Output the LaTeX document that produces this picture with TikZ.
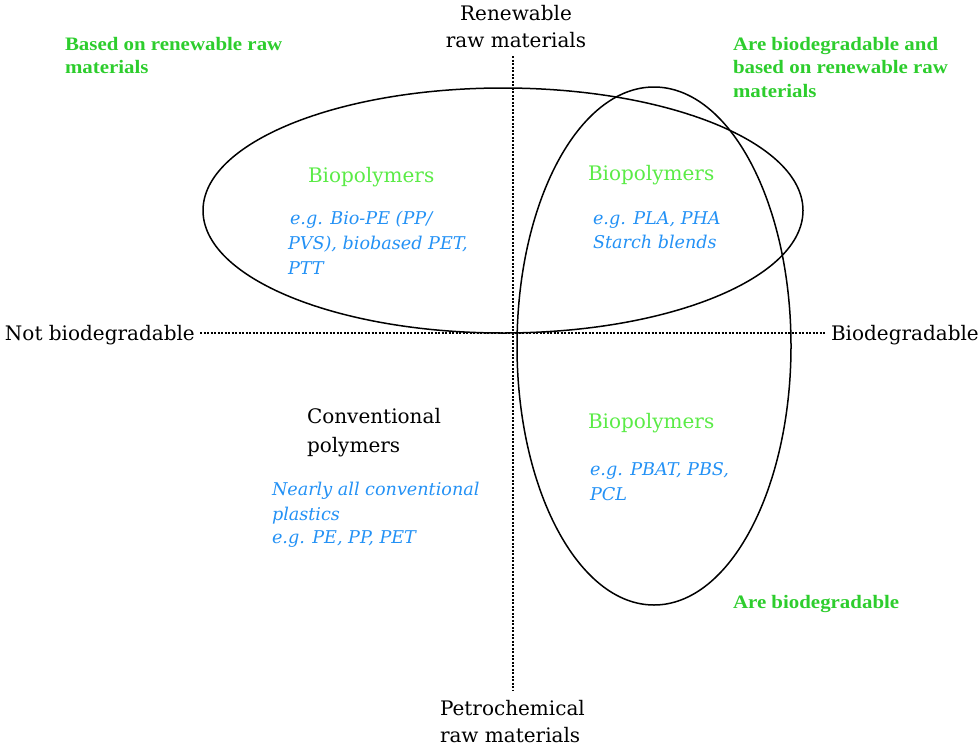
\documentclass[tikz,border=0pt]{standalone}
\usepackage{fontspec}
\setmainfont{DejaVu Serif}
\newfontfamily\grnfont[FakeStretch=1.1]{Liberation Serif}
\usetikzlibrary{shapes.geometric}
\definecolor{lbl}{RGB}{45,205,45}
\definecolor{bio}{RGB}{90,235,70}
\definecolor{exblue}{RGB}{35,145,245}
\begin{document}
\begin{tikzpicture}[x=1pt,y=-1pt,
  every node/.style={inner sep=0pt, outer sep=0pt},
  axisline/.style={line width=2.2pt, dash pattern=on 2pt off 1.5pt},
  ring/.style={draw, ellipse, line width=1.5pt, inner sep=0pt},
  axlabel/.style={anchor=base west, font=\fontsize{20}{24}\selectfont},
  axlabelc/.style={anchor=base, font=\fontsize{20}{24}\selectfont},
  hdstyle/.style={anchor=base west, text=bio, font=\fontsize{20}{24}\selectfont},
  exstyle/.style={anchor=base west, text=exblue, font=\fontsize{17.6}{20}\selectfont\itshape},
  ntstyle/.style={anchor=base west, text=lbl, font=\fontsize{19}{23}\selectfont\grnfont\bfseries}]
\useasboundingbox (0,0) rectangle (980,745);

% axes
\coordinate (vt) at (513,56);
\coordinate (vb) at (513,690);
\coordinate (hl) at (200,333);
\coordinate (hr) at (826,333);
\draw[axisline] (vt) -- (vb);
\draw[axisline] (hl) -- (hr);

% ellipses
\node[ring, minimum width=600pt, minimum height=245pt] (eh) at (503,210.5) {};
\node[ring, minimum width=274pt, minimum height=518pt] (ev) at (654,346) {};

% axis labels
\node[axlabelc] (ren1) at (516,20) {Renewable};
\node[axlabelc] (ren2) at (516,47) {raw materials};
\node[axlabel] (pet1) at (440,715) {Petrochemical};
\node[axlabel] (pet2) at (440,742) {raw materials};
\node[axlabel] (notbio) at (5,340) {Not biodegradable};
\node[axlabel] (bio) at (831,340) {Biodegradable};

% green notes
\node[ntstyle] (n1a) at (65,50) {Based on renewable raw};
\node[ntstyle] (n1b) at (65,73) {materials};
\node[ntstyle] (n2a) at (733,50) {Are biodegradable and};
\node[ntstyle] (n2b) at (733,73) {based on renewable raw};
\node[ntstyle] (n2c) at (733,97) {materials};
\node[ntstyle] (n3a) at (733,608) {Are biodegradable};

% quadrant headings
\node[hdstyle] (b1) at (308,182) {Biopolymers};
\node[hdstyle] (b2) at (588,180) {Biopolymers};
\node[hdstyle] (b3) at (588,428) {Biopolymers};
\node[axlabel] (c1) at (307,423) {Conventional};
\node[axlabel] (c2) at (307,452) {polymers};

% examples
\node[exstyle] (x1a) at (290,224) {e.g. Bio-PE (PP/};
\node[exstyle] (x1b) at (288,249) {PVS), biobased PET,};
\node[exstyle] (x1c) at (288,274) {PTT};
\node[exstyle] (x2a) at (593,224) {e.g. PLA, PHA};
\node[exstyle] (x2b) at (593,248) {Starch blends};
\node[exstyle] (x3a) at (590,475) {e.g. PBAT, PBS,};
\node[exstyle] (x3b) at (590,500) {PCL};
\node[exstyle] (x4a) at (272,495) {Nearly all conventional};
\node[exstyle] (x4b) at (272,520) {plastics};
\node[exstyle] (x4c) at (272,543) {e.g. PE, PP, PET};
\end{tikzpicture}
\end{document}
